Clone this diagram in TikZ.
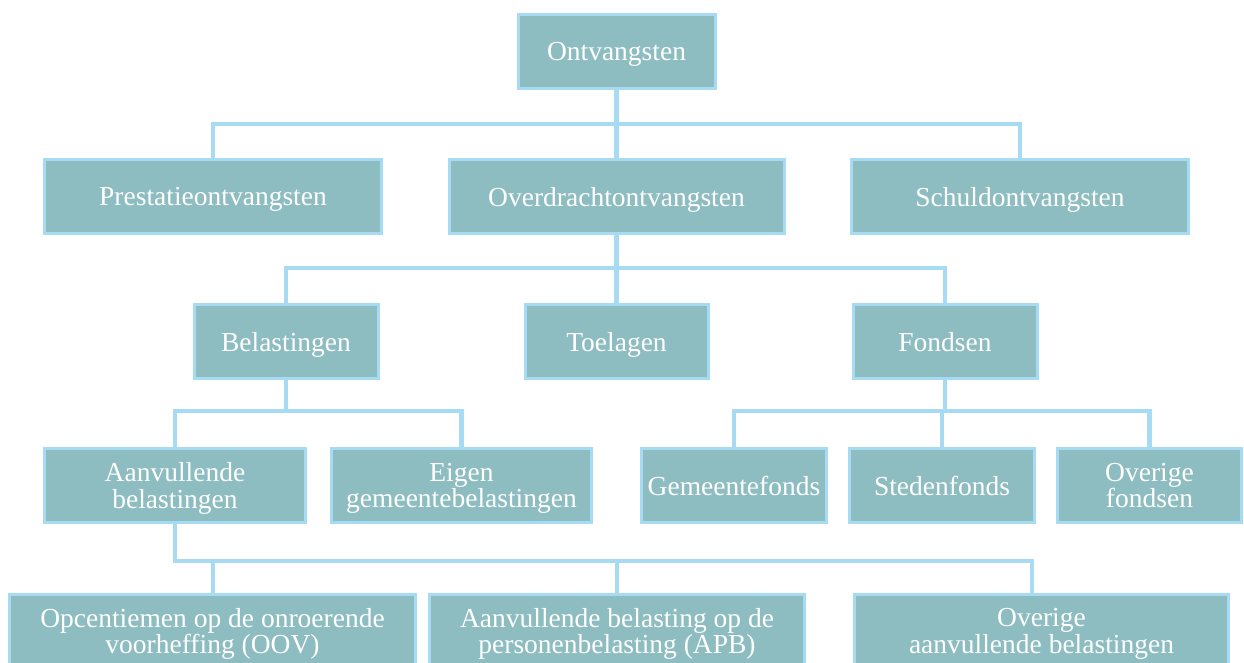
\documentclass[tikz,border=0pt]{standalone}
\usepackage{fontspec}
\setmainfont{Liberation Serif}
\definecolor{boxfill}{HTML}{8DBCC1}
\definecolor{boxline}{HTML}{A6DBF3}
\begin{document}
\begin{tikzpicture}[x=1pt,y=-1pt,
  box/.style={draw=boxline, fill=boxfill, line width=3pt, text=white, align=center,
    font=\fontsize{27.5}{26.5}\selectfont, inner sep=0pt, outer sep=0pt,
    minimum height=74pt, text depth=0pt},
  conn/.style={draw=boxline, line width=4.5pt}]
\useasboundingbox[fill=white] (0,0) rectangle (1244,663);
% level 0
\node[box, minimum width=197pt] (ont) at (616.5,51.5) {Ontvangsten};
% level 1
\node[box, minimum width=337pt] (pres) at (213,196.5) {Prestatieontvangsten};
\node[box, minimum width=335pt] (over) at (616.5,196.5) {Overdrachtontvangsten};
\node[box, minimum width=337pt] (schuld) at (1020,196.5) {Schuldontvangsten};
% level 2
\node[box, minimum width=184pt] (bel) at (286,341.5) {Belastingen};
\node[box, minimum width=183pt] (toe) at (616.5,341.5) {Toelagen};
\node[box, minimum width=184pt] (fon) at (945,341.5) {Fondsen};
% level 3
\node[box, minimum width=261pt] (aanv) at (175,485.5) {Aanvullende\\belastingen};
\node[box, minimum width=260pt] (eigen) at (461.5,485.5) {Eigen\\gemeentebelastingen};
\node[box, minimum width=185pt] (gem) at (734,485.5) {Gemeentefonds};
\node[box, minimum width=185pt] (sted) at (942,485.5) {Stedenfonds};
\node[box, minimum width=184pt] (ovf) at (1149.5,485.5) {Overige\\fondsen};
% level 4
\node[box, minimum width=406pt] (opc) at (212.5,631) {Opcentiemen op de onroerende\\voorheffing (OOV)};
\node[box, minimum width=375pt] (apb) at (617,631) {Aanvullende belasting op de\\personenbelasting (APB)};
\node[box, minimum width=374pt] (ova) at (1041.5,631) {Overige\\aanvullende belastingen};
% junctions
\coordinate (j1) at (ont.south |- 0,124);
\coordinate (j2) at (over.south |- 0,268);
\coordinate (j3) at (bel.south |- 0,411);
\coordinate (j4) at (fon.south |- 0,411);
\coordinate (j5a) at (213,561);
\coordinate (j5b) at (617,561);
\coordinate (j5c) at (1032,561);
% connectors
\draw[conn] (ont.south) -- (j1);
\draw[conn] (pres.north) |- (j1) -| (schuld.north);
\draw[conn] (j1) -- (over.north);
\draw[conn] (over.south) -- (j2);
\draw[conn] (bel.north) |- (j2) -| (fon.north);
\draw[conn] (j2) -- (toe.north);
\draw[conn] (bel.south) -- (j3);
\draw[conn] (aanv.north) |- (j3) -| (eigen.north);
\draw[conn] (fon.south) -- (j4);
\draw[conn] (gem.north) |- (j4) -| (ovf.north);
\draw[conn] (sted.north) -- (sted.north |- j4);
\draw[conn] (aanv.south) |- (j5c) -- (j5c |- ova.north);
\draw[conn] (j5a) -- (j5a |- opc.north);
\draw[conn] (j5b) -- (apb.north);
\end{tikzpicture}
\end{document}
